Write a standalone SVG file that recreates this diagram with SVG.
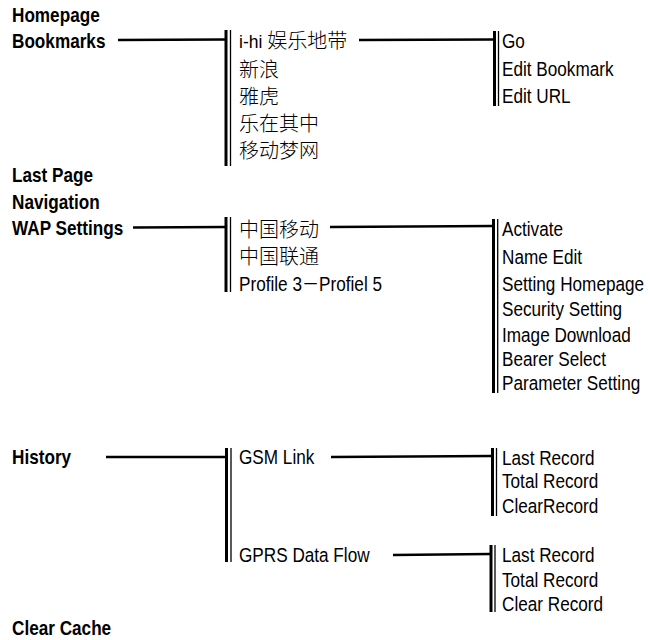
<svg xmlns="http://www.w3.org/2000/svg" width="650" height="640" viewBox="0 0 650 640">
<style>
text{font-family:"Liberation Sans","Noto Sans CJK SC",sans-serif;fill:#000;}
.b{font-size:19.5px;font-weight:bold;}
.r{font-size:19.5px;}
.c{font-size:20px;font-weight:300;font-family:"Noto Sans CJK SC","Liberation Sans",sans-serif;}
.h{stroke:#000;stroke-width:2.5;fill:none;}
.tk{stroke:#000;stroke-width:3;fill:none;}
.tn{stroke:#000;stroke-width:1.3;fill:none;}
</style>
<rect width="650" height="640" fill="#fff"/>
<g id="connectors">
  <line class="h" x1="118" y1="40" x2="225" y2="39.5"/>
  <line class="tk" x1="226" y1="30" x2="226" y2="166"/>
  <line class="tn" x1="230.5" y1="30" x2="230.5" y2="166"/>
  <line class="h" x1="359" y1="40" x2="494" y2="39.5"/>
  <line class="tk" x1="494.5" y1="31" x2="494.5" y2="106"/>
  <line class="tn" x1="498.5" y1="31" x2="498.5" y2="106"/>
  <line class="h" x1="133" y1="227.5" x2="225" y2="227"/>
  <line class="tk" x1="226" y1="217" x2="226" y2="292"/>
  <line class="tn" x1="230.5" y1="217" x2="230.5" y2="292"/>
  <line class="h" x1="330" y1="227" x2="493" y2="226"/>
  <line class="tk" x1="493.5" y1="219" x2="493.5" y2="393"/>
  <line class="tn" x1="497.7" y1="219" x2="497.7" y2="393"/>
  <line class="h" x1="106" y1="457" x2="225" y2="457"/>
  <line class="tk" x1="226.5" y1="448" x2="226.5" y2="562"/>
  <line class="tn" x1="231" y1="448" x2="231" y2="562"/>
  <line class="h" x1="331" y1="457" x2="492" y2="456"/>
  <line class="tk" x1="492.5" y1="448" x2="492.5" y2="516"/>
  <line class="tn" x1="496.5" y1="448" x2="496.5" y2="516"/>
  <line class="h" x1="393" y1="555" x2="490" y2="554"/>
  <line class="tk" x1="491" y1="545" x2="491" y2="612"/>
  <line class="tn" x1="495" y1="545" x2="495" y2="612"/>
</g>
<g id="n-homepage">
  <text class="b" transform="translate(12,21.5) scale(0.88,1)">Homepage</text>
</g>
<g id="n-bookmarks">
  <text class="b" transform="translate(12,48) scale(0.88,1)">Bookmarks</text>
</g>
<g id="n-bookmark-list">
  <text class="c" x="239" y="48"><tspan style="font-family:'Liberation Sans',sans-serif;font-weight:normal;font-size:17.5px">i-hi </tspan>娱乐地带</text>
  <text class="c" x="239" y="77">新浪</text>
  <text class="c" x="239" y="104">雅虎</text>
  <text class="c" x="239" y="131">乐在其中</text>
  <text class="c" x="239" y="158">移动梦网</text>
</g>
<g id="n-bookmark-options">
  <text class="r" transform="translate(502,48) scale(0.88,1)">Go</text>
  <text class="r" transform="translate(502,76) scale(0.88,1)">Edit Bookmark</text>
  <text class="r" transform="translate(502,103) scale(0.88,1)">Edit URL</text>
</g>
<g id="n-lastpage">
  <text class="b" transform="translate(12,182) scale(0.88,1)">Last Page</text>
</g>
<g id="n-navigation">
  <text class="b" transform="translate(12,208.5) scale(0.88,1)">Navigation</text>
</g>
<g id="n-wap">
  <text class="b" transform="translate(12,235) scale(0.88,1)">WAP Settings</text>
</g>
<g id="n-profiles">
  <text class="c" x="239" y="237">中国移动</text>
  <text class="c" x="239" y="264">中国联通</text>
  <text class="r" transform="translate(239,291) scale(0.88,1)">Profile 3－Profiel 5</text>
</g>
<g id="n-profile-options">
  <text class="r" transform="translate(502,236) scale(0.88,1)">Activate</text>
  <text class="r" transform="translate(502,264) scale(0.88,1)">Name Edit</text>
  <text class="r" transform="translate(502,291) scale(0.88,1)">Setting Homepage</text>
  <text class="r" transform="translate(502,316) scale(0.88,1)">Security Setting</text>
  <text class="r" transform="translate(502,341.5) scale(0.88,1)">Image Download</text>
  <text class="r" transform="translate(502,366) scale(0.88,1)">Bearer Select</text>
  <text class="r" transform="translate(502,390) scale(0.88,1)">Parameter Setting</text>
</g>
<g id="n-history">
  <text class="b" transform="translate(12,464) scale(0.88,1)">History</text>
</g>
<g id="n-gsm">
  <text class="r" transform="translate(239,464) scale(0.88,1)">GSM Link</text>
</g>
<g id="n-gsm-options">
  <text class="r" transform="translate(502,464.5) scale(0.88,1)">Last Record</text>
  <text class="r" transform="translate(502,488) scale(0.88,1)">Total Record</text>
  <text class="r" transform="translate(502,513) scale(0.88,1)">ClearRecord</text>
</g>
<g id="n-gprs">
  <text class="r" transform="translate(239,562) scale(0.88,1)">GPRS Data Flow</text>
</g>
<g id="n-gprs-options">
  <text class="r" transform="translate(502,562) scale(0.88,1)">Last Record</text>
  <text class="r" transform="translate(502,587) scale(0.88,1)">Total Record</text>
  <text class="r" transform="translate(502,611) scale(0.88,1)">Clear Record</text>
</g>
<g id="n-clearcache">
  <text class="b" transform="translate(12,635) scale(0.88,1)">Clear Cache</text>
</g>
</svg>
